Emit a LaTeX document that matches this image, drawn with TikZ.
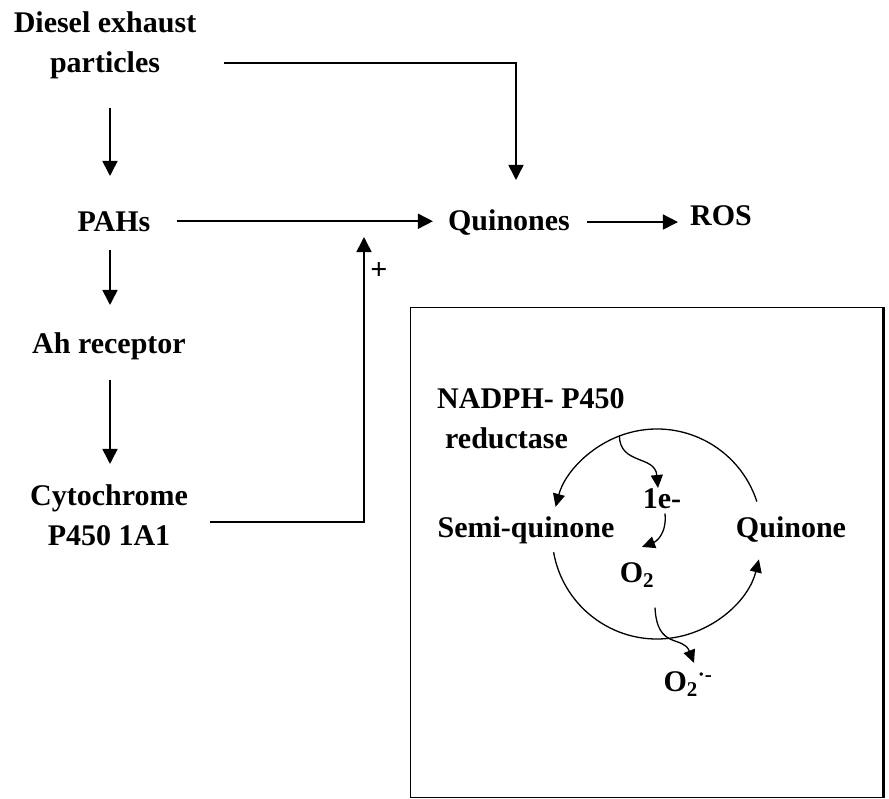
\documentclass[tikz,border=0pt]{standalone}
\usepackage{fontspec}
\setmainfont{Liberation Serif}
\usepackage{tikz}
\usetikzlibrary{calc, positioning, arrows.meta}

\begin{document}
\begin{tikzpicture}[
  x=1pt, y=1pt,
  lbl/.style={font=\fontsize{30}{40}\selectfont\bfseries, inner sep=0pt, align=center, anchor=base},
  arr/.style={-{Triangle[length=15pt, width=15pt]}, line width=1.6pt},
  cycarr/.style={-{Triangle[length=13pt, width=12pt]}, line width=1.3pt}
]
  \useasboundingbox (0,0) rectangle (889,-798);

  % main pathway
  \node[lbl] (diesel) at (105,-72) {Diesel exhaust\\particles};
  \node[lbl] (pahs) at (114,-231) {PAHs};
  \node[lbl] (ahr) at (109,-353) {Ah receptor};
  \node[lbl] (cyp) at (109,-545) {Cytochrome\\P450 1A1};
  \node[lbl] (quin) at (509,-230) {Quinones};
  \node[lbl] (ros) at (721,-225) {ROS};
  \node[lbl] (plus) at (379,-279) {+};

  \coordinate (spine) at (110,0);
  \coordinate (boost) at (364,-237);

  \draw[arr, shorten <=29pt, shorten >=35pt] (diesel.south -| spine) -- (pahs.north -| spine);
  \draw[arr, shorten <=19pt, shorten >=27pt] (pahs.south -| spine) -- (ahr.north -| spine);
  \draw[arr, shorten <=20pt, shorten >=20pt] (ahr.south -| spine) -- (cyp.north -| spine);
  \draw[arr, shorten <=26pt, shorten >=15pt] (pahs.east) -- (quin.west |- pahs.east);
  \draw[arr, shorten <=17pt, shorten >=12pt] (quin.east) -- (ros.west |- quin.east);
  \draw[arr, shorten >=29pt] ([shift={(28pt,-18pt)}]diesel.east) -| ([xshift=7pt]quin.north);
  \draw[arr] ([shift={(22pt,-7pt)}]cyp.east) -| (boost);

  % inset: redox cycle
  \node[draw, line width=1.2pt, minimum width=472pt, minimum height=490pt, inner sep=0pt, anchor=north west] (inset) at (410,-307) {};
  \draw[line width=3pt] (inset.north east) -- (inset.south east);

  \node[lbl, align=left, anchor=base west] (nadph) at (437,-448) {NADPH- P450\\\hspace*{8pt}reductase};
  \node[lbl] (semi) at (526,-537) {Semi-quinone};
  \node[lbl] (quinone) at (791,-537) {Quinone};
  \node[lbl] (e1) at (662,-508) {1e-};
  \node[lbl] (o2) at (637,-582) {O\textsubscript{2}};
  \node[lbl] (o2rad) at (688,-691) {O\textsubscript{2}\textsuperscript{·-}};

  \coordinate (ring) at (657,-534);
  \draw[cycarr] ($(ring)+(18:105)$) arc[start angle=18, end angle=165, radius=105];
  \draw[cycarr] ($(ring)+(190:105)$) arc[start angle=190, end angle=346, radius=105];

  \draw[cycarr] ($(ring)+(111:105)$) .. controls (620,-465) and (655,-455) .. ([xshift=-4pt]e1.north);
  \draw[cycarr] ([shift={(3pt,-5pt)}]e1.south) .. controls (667,-535) and (655,-542) .. ([shift={(5pt,15pt)}]o2.north);
  \draw[cycarr] ([shift={(18pt,-20pt)}]o2.south) .. controls (657,-650) and (683,-635) .. ([shift={(6pt,8pt)}]o2rad.north);
\end{tikzpicture}
\end{document}
